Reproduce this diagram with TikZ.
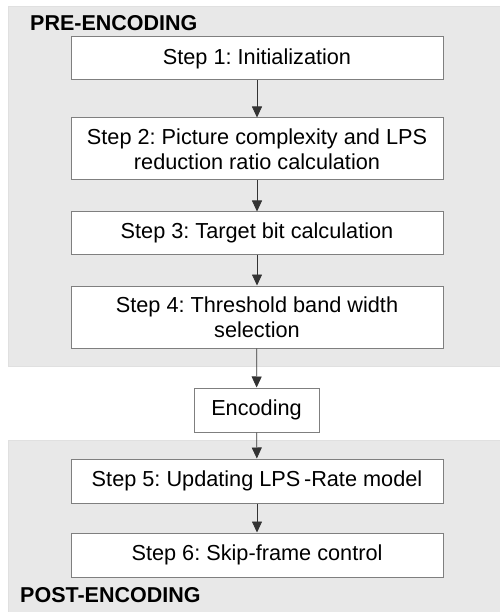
\documentclass[tikz,border=0pt]{standalone}
\usepackage{fontspec}
\setmainfont{Liberation Sans}
\usepackage{tikz}
\usetikzlibrary{arrows.meta}
\frenchspacing

\definecolor{panelgray}{HTML}{E8E8E8}
\definecolor{boxgray}{HTML}{7F7F7F}

\tikzset{
  stepbox/.style={draw=boxgray, fill=white, line width=1pt, minimum width=372pt,
    align=center, inner sep=2pt, font=\fontsize{21.7}{24.5}\selectfont},
  flow/.style={draw=black!80, line width=0.8pt, -{Triangle[length=11pt,width=10pt]}},
  panel/.style={fill=panelgray, draw=black!12, line width=0.8pt},
  phase/.style={anchor=west, inner sep=0pt, font=\fontsize{21.5}{24}\selectfont\bfseries}
}

\begin{document}
\begin{tikzpicture}[x=1pt, y=-1pt]
        \useasboundingbox (0,0) rectangle (499,612);

        % Draw the two grey panels for the pre- and post-encoding phases
        \fill[panel] (8,6) rectangle (500,366);
        \fill[panel] (8,440) rectangle (500,613);
        \node[phase] (pre) at (30,23.5) {PRE-ENCODING};
        \node[phase] (post) at (20,595) {POST-ENCODING};

        % Draw the steps
        \node[stepbox, minimum height=43pt] (s1) at (257,58.5) {Step 1: Initialization};
        \node[stepbox, minimum height=62pt] (s2) at (257,149) {Step 2: Picture complexity and LPS\\reduction ratio calculation};
        \node[stepbox, minimum height=42pt] (s3) at (257,233) {Step 3: Target bit calculation};
        \node[stepbox, minimum height=62pt] (s4) at (257,317) {Step 4: Threshold band width\\selection};
        \node[stepbox, minimum width=125pt, minimum height=44pt] (enc) at (256.5,410) {Encoding};
        \node[stepbox, minimum height=44pt] (s5) at (257,481) {Step 5: Updating LPS\,-Rate model};
        \node[stepbox, minimum height=44pt] (s6) at (257,555) {Step 6: Skip-frame control};

        % Connect the steps
        \draw[flow] (s1) -- (s2);
        \draw[flow] (s2) -- (s3);
        \draw[flow] (s3) -- (s4);
        \draw[flow] (s4) -- (enc);
        \draw[flow] (enc) -- (s5);
        \draw[flow] (s5) -- (s6);
    \end{tikzpicture}
\end{document}
